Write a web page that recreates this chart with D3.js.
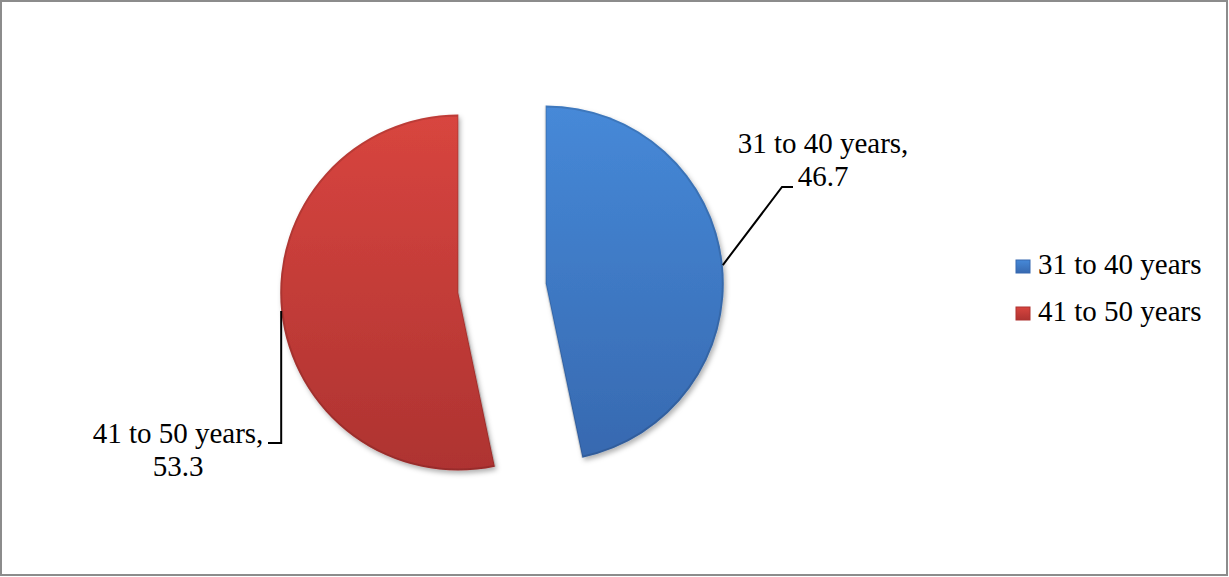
<!DOCTYPE html>
<html>
<head>
<meta charset="utf-8">
<style>
	body { margin: 0; background: #fff; }
	svg { position: absolute; top: 0px; left: 0px; }
	.leader { fill: none; stroke: #000; stroke-width: 2px; }
</style>
<script src="https://cdnjs.cloudflare.com/ajax/libs/d3/7.8.5/d3.min.js"></script>
</head>
<body>
<svg width="1229" height="577"></svg>
<script>
// data
var categories = ["31 to 40 years", "41 to 50 years"];
var values = [46.7, 53.3];
var colorsTop = ["#4689d8", "#d8453f"];
var colorsBottom = ["#3769b0", "#ae3331"];

var serif = "'Liberation Serif', 'DejaVu Serif', serif";

var svg = d3.select("svg"),
	width = +svg.attr("width"),
	height = +svg.attr("height");

// frame
svg.append("rect")
	.attr("x", 1).attr("y", 1)
	.attr("width", width - 3).attr("height", height - 3)
	.attr("fill", "#fff").attr("stroke", "#8c8c8c").attr("stroke-width", 2);

var defs = svg.append("defs");
categories.forEach(function(c, i) {
	var lg = defs.append("linearGradient").attr("id", "grad" + i)
		.attr("x1", 0).attr("y1", 0).attr("x2", 0).attr("y2", 1);
	lg.append("stop").attr("offset", "0%").attr("stop-color", colorsTop[i]);
	lg.append("stop").attr("offset", "100%").attr("stop-color", colorsBottom[i]);
});
var f = defs.append("filter").attr("id", "shadow")
	.attr("x", "-10%").attr("y", "-10%").attr("width", "130%").attr("height", "130%");
f.append("feDropShadow").attr("dx", 2).attr("dy", 3).attr("stdDeviation", 2.5)
	.attr("flood-color", "#000").attr("flood-opacity", 0.3);

var cx = 502, cy = 288, r = 178, explode = 44;

var pie = d3.pie().sort(null)(values);
var arc = d3.arc().innerRadius(0).outerRadius(r);

var slices = svg.append("g").attr("transform", "translate(" + cx + "," + cy + ")")
	.selectAll(".slice").data(pie).enter().append("g")
	.attr("class", "slice")
	.attr("transform", function(d) {
		var a = (d.startAngle + d.endAngle) / 2;
		return "translate(" + (explode * Math.sin(a)) + "," + (-explode * Math.cos(a)) + ")";
	});

slices.append("path")
	.attr("d", arc)
	.attr("fill", function(d, i) { return "url(#grad" + i + ")"; })
	.attr("filter", "url(#shadow)");

// subtle bevel along the edges
slices.append("path")
	.attr("d", d3.arc().innerRadius(0).outerRadius(r - 1))
	.attr("fill", "none")
	.attr("stroke", "rgba(0,0,0,0.12)")
	.attr("stroke-width", 2);

// leader lines and labels
function midPoint(d) {
	var a = (d.startAngle + d.endAngle) / 2,
		ox = explode * Math.sin(a), oy = -explode * Math.cos(a);
	return [cx + ox + r * Math.sin(a), cy + oy - r * Math.cos(a)];
}

var p0 = midPoint(pie[0]);
svg.append("path").attr("class", "leader")
	.attr("d", d3.line()([p0, [782, 187], [793, 187]]));
var p1 = midPoint(pie[1]);
svg.append("path").attr("class", "leader")
	.attr("d", d3.line()([p1, [p1[0], 443], [268, 443]]));

var labelPos = [[823, 153], [178, 443]];
pie.forEach(function(d, i) {
	var t = svg.append("text")
		.attr("x", labelPos[i][0]).attr("y", labelPos[i][1])
		.attr("text-anchor", "middle")
		.attr("font-family", serif).attr("font-size", 29).attr("fill", "#000");
	t.append("tspan").attr("x", labelPos[i][0]).text(categories[i] + ",");
	t.append("tspan").attr("x", labelPos[i][0]).attr("dy", 33).text(d3.format(".1f")(values[i]));
});

// legend
var legend = svg.append("g")
	.selectAll("g").data(categories).enter().append("g")
	.attr("transform", function(d, i) { return "translate(1016," + (260 + i * 47) + ")"; });
legend.append("rect")
	.attr("width", 14).attr("height", 13)
	.attr("fill", function(d, i) { return "url(#grad" + i + ")"; })
	.attr("stroke", function(d, i) { return colorsBottom[i]; }).attr("stroke-width", 1);
legend.append("text")
	.attr("x", 22).attr("y", 14)
	.attr("font-family", serif).attr("font-size", 29).attr("fill", "#000")
	.text(function(d) { return d; });
</script>
</body>
</html>
